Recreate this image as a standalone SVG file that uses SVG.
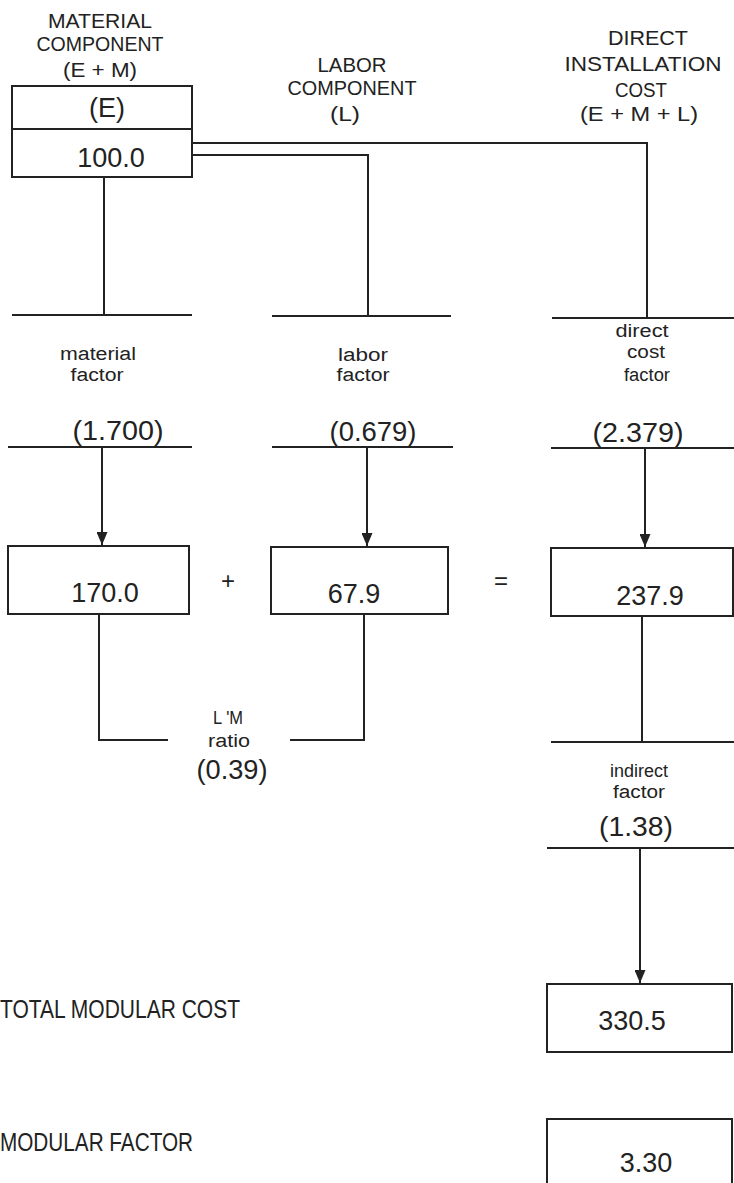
<svg xmlns="http://www.w3.org/2000/svg" width="734" height="1183" viewBox="0 0 734 1183">
<style>
.ln{fill:none;stroke:#222;stroke-width:2}
.bx{fill:#fff;stroke:#222;stroke-width:2}
.hd{font-family:"Liberation Sans Narrow","Liberation Sans",Arial,sans-serif;font-size:21px;fill:#222;text-anchor:middle}
.lb{font-family:"Liberation Sans Narrow","Liberation Sans",Arial,sans-serif;font-size:18px;fill:#222;text-anchor:middle}
.nm{font-family:"Liberation Sans",Arial,sans-serif;font-size:27px;fill:#222;text-anchor:middle}
.op{font-family:"Liberation Sans",Arial,sans-serif;font-size:24px;fill:#222;text-anchor:middle}
.lf{font-family:"Liberation Sans Narrow","Liberation Sans",Arial,sans-serif;font-size:25px;fill:#222}
</style>
<defs>
<marker id="ah" viewBox="0 0 13 11" refX="13" refY="5.5" markerWidth="13" markerHeight="11" markerUnits="userSpaceOnUse" orient="auto">
<path d="M0,0 L13,5.5 L0,11 Z" fill="#222"/>
</marker>
</defs>
<rect width="734" height="1183" fill="#fff"/>

<g id="connectors">
<path class="ln" d="M192 143 H647 V318"/>
<path class="ln" d="M192 155 H368 V316"/>
<path class="ln" d="M104 177 V315"/>
<path class="ln" d="M12 315 H192"/>
<path class="ln" d="M272 316 H451"/>
<path class="ln" d="M552 318 H734"/>
<path class="ln" d="M8 447 H192"/>
<path class="ln" d="M272 447 H453"/>
<path class="ln" d="M551 448 H734"/>
<path class="ln" d="M102 447 V545" marker-end="url(#ah)"/>
<path class="ln" d="M367 447 V546" marker-end="url(#ah)"/>
<path class="ln" d="M645 448 V547" marker-end="url(#ah)"/>
<path class="ln" d="M99 614 V740 H168"/>
<path class="ln" d="M290 740 H364 V614"/>
<path class="ln" d="M642 616 V742"/>
<path class="ln" d="M551 742 H734"/>
<path class="ln" d="M547 848 H734"/>
<path class="ln" d="M640 848 V983" marker-end="url(#ah)"/>
</g>

<g id="material-header">
<text class="hd" x="100" y="28" textLength="104" lengthAdjust="spacingAndGlyphs">MATERIAL</text>
<text class="hd" x="100" y="51" textLength="127" lengthAdjust="spacingAndGlyphs">COMPONENT</text>
<text class="hd" x="100" y="77" textLength="74" lengthAdjust="spacingAndGlyphs">(E + M)</text>
</g>
<g id="labor-header">
<text class="hd" x="352" y="72" textLength="69" lengthAdjust="spacingAndGlyphs">LABOR</text>
<text class="hd" x="352" y="95" textLength="129" lengthAdjust="spacingAndGlyphs">COMPONENT</text>
<text class="hd" x="345" y="121" textLength="30" lengthAdjust="spacingAndGlyphs">(L)</text>
</g>
<g id="direct-header">
<text class="hd" x="648" y="45" textLength="80" lengthAdjust="spacingAndGlyphs">DIRECT</text>
<text class="hd" x="643" y="71" textLength="157" lengthAdjust="spacingAndGlyphs">INSTALLATION</text>
<text class="hd" x="641" y="97" textLength="52" lengthAdjust="spacingAndGlyphs">COST</text>
<text class="hd" x="639" y="121" textLength="118" lengthAdjust="spacingAndGlyphs">(E + M + L)</text>
</g>

<g id="box-e">
<rect class="bx" x="12" y="86" width="180" height="91"/>
<path class="ln" d="M12 129 H192"/>
<text class="nm" x="107" y="117">(E)</text>
<text class="nm" x="111" y="167">100.0</text>
</g>

<g id="material-factor">
<text class="lb" x="98" y="360" textLength="76" lengthAdjust="spacingAndGlyphs">material</text>
<text class="lb" x="97" y="381" textLength="53" lengthAdjust="spacingAndGlyphs">factor</text>
<text class="nm" x="118" y="440" textLength="91" lengthAdjust="spacingAndGlyphs">(1.700)</text>
</g>
<g id="labor-factor">
<text class="lb" x="363" y="361" textLength="50" lengthAdjust="spacingAndGlyphs">labor</text>
<text class="lb" x="363" y="381" textLength="53" lengthAdjust="spacingAndGlyphs">factor</text>
<text class="nm" x="373" y="441" textLength="87" lengthAdjust="spacingAndGlyphs">(0.679)</text>
</g>
<g id="direct-cost-factor">
<text class="lb" x="642" y="337" textLength="53" lengthAdjust="spacingAndGlyphs">direct</text>
<text class="lb" x="646" y="358" textLength="38" lengthAdjust="spacingAndGlyphs">cost</text>
<text class="lb" x="647" y="381" textLength="46" lengthAdjust="spacingAndGlyphs">factor</text>
<text class="nm" x="638" y="442" textLength="91" lengthAdjust="spacingAndGlyphs">(2.379)</text>
</g>

<g id="box-material">
<rect class="bx" x="8" y="546" width="181" height="68"/>
<text class="nm" x="105" y="602">170.0</text>
</g>
<text class="op" x="228" y="589">+</text>
<g id="box-labor">
<rect class="bx" x="271" y="547" width="177" height="67"/>
<text class="nm" x="354" y="603">67.9</text>
</g>
<text class="op" x="501" y="589">=</text>
<g id="box-direct">
<rect class="bx" x="551" y="548" width="182" height="68"/>
<text class="nm" x="650" y="605">237.9</text>
</g>

<g id="lm-ratio">
<text class="lb" x="228" y="724" textLength="30" lengthAdjust="spacingAndGlyphs">L 'M</text>
<text class="lb" x="229" y="747" textLength="42" lengthAdjust="spacingAndGlyphs">ratio</text>
<text class="nm" x="232" y="779" textLength="71" lengthAdjust="spacingAndGlyphs">(0.39)</text>
</g>

<g id="indirect-factor">
<text class="lb" x="639" y="777" textLength="58" lengthAdjust="spacingAndGlyphs">indirect</text>
<text class="lb" x="639" y="798" textLength="52" lengthAdjust="spacingAndGlyphs">factor</text>
<text class="nm" x="636" y="836" textLength="74" lengthAdjust="spacingAndGlyphs">(1.38)</text>
</g>

<g id="total-modular-cost">
<text class="lf" x="0" y="1018" textLength="240" lengthAdjust="spacingAndGlyphs">TOTAL MODULAR COST</text>
<rect class="bx" x="547" y="984" width="185" height="68"/>
<text class="nm" x="632" y="1030">330.5</text>
</g>

<g id="modular-factor">
<text class="lf" x="0" y="1151" textLength="193" lengthAdjust="spacingAndGlyphs">MODULAR FACTOR</text>
<path class="bx" d="M547 1192 V1119 H732 V1192"/>
<text class="nm" x="646" y="1172">3.30</text>
</g>
</svg>
